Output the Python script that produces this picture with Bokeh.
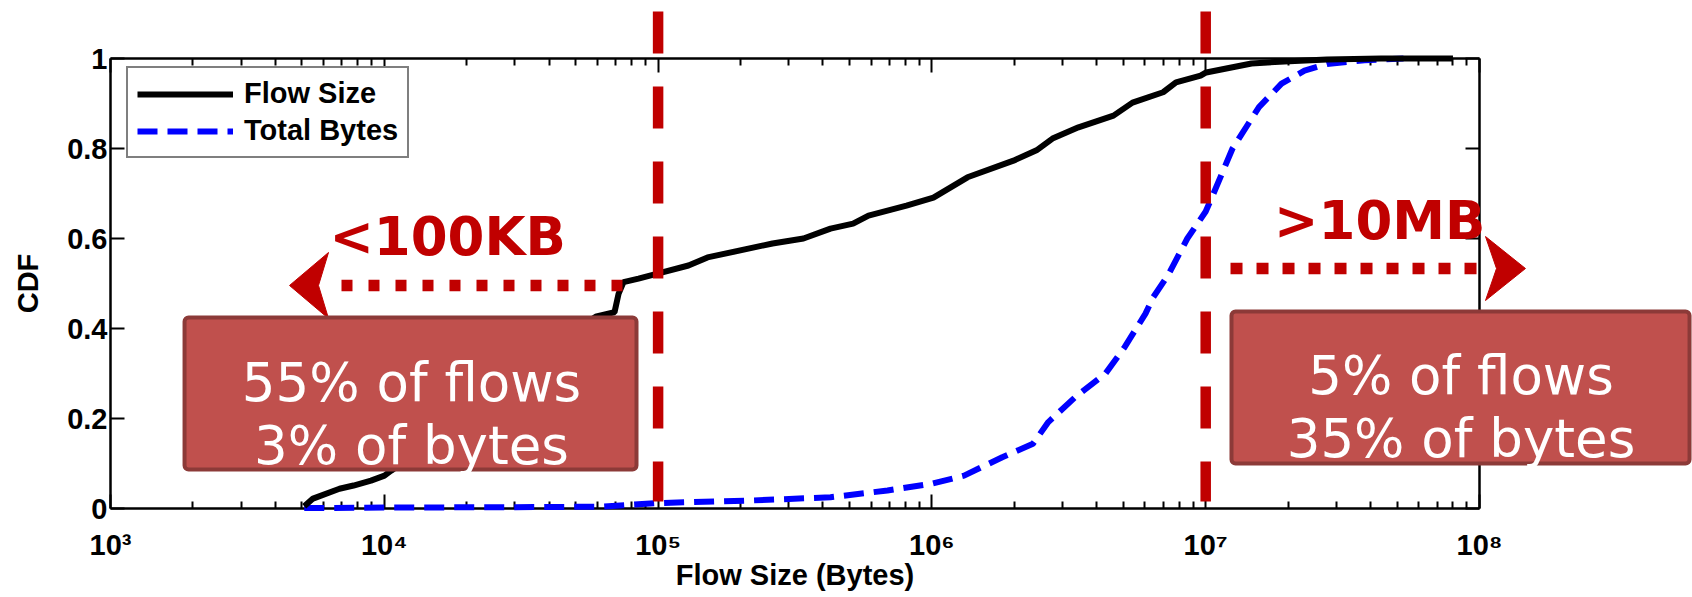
from bokeh.plotting import figure
from bokeh.models import Range1d, FixedTicker, LogAxis, LinearAxis, Legend, LegendItem
from bokeh.embed import file_html
from bokeh.resources import INLINE
from bokeh.core.properties import value

# ---------------- data ----------------
flow_size_bytes = [5100, 5490, 6860, 7720, 8940, 10016, 10590, 15000, 20000, 30000, 45000,
                   59570, 69300, 71700, 74750, 84800, 99500, 129100, 151500, 261700, 339600,
                   426200, 515400, 586700, 807500, 1013000, 1349000, 1986000, 2410000, 2757000,
                   3430000, 4605000, 5403000, 6990000, 7790000, 9580000, 10040000, 14700000,
                   20240000, 27730000, 43700000, 80000000]
flow_size_cdf = [0.005, 0.022, 0.044, 0.051, 0.062, 0.073, 0.084, 0.15, 0.21, 0.30, 0.38,
                 0.427, 0.436, 0.477, 0.503, 0.511, 0.522, 0.540, 0.558, 0.589, 0.600,
                 0.622, 0.633, 0.651, 0.673, 0.691, 0.736, 0.773, 0.796, 0.822,
                 0.847, 0.873, 0.902, 0.925, 0.947, 0.962, 0.969, 0.989,
                 0.994, 0.998, 1.0, 1.0]

total_bytes_x = [5100, 10000, 30000, 61600, 99500, 223000, 426200, 688300, 996600, 1311000,
                 1807000, 2340000, 2662000, 3332000, 4306000, 5050000, 6027000, 6440000,
                 7312000, 8567000, 10000000, 10680000, 12530000, 15650000, 18920000,
                 22950000, 27730000, 38020000, 52780000]
total_bytes_cdf = [0.001, 0.002, 0.003, 0.004, 0.012, 0.018, 0.025, 0.040, 0.055, 0.073,
                   0.114, 0.144, 0.192, 0.247, 0.300, 0.358, 0.433, 0.470,
                   0.520, 0.600, 0.660, 0.700, 0.800, 0.892, 0.944,
                   0.973, 0.988, 0.996, 1.0]

x_ticks = [1e3, 1e4, 1e5, 1e6, 1e7, 1e8]
x_tick_labels = ["10\u00b3", "10\u2074", "10\u2075", "10\u2076", "10\u2077", "10\u2078"]
y_ticks = [0, 0.2, 0.4, 0.6, 0.8, 1]
y_tick_labels = ["0", "0.2", "0.4", "0.6", "0.8", "1"]

thresholds = [1e5, 1e7]
threshold_labels = ["<100KB", ">10MB"]
box_lines = [["55% of flows", "3% of bytes"], ["5% of flows", "35% of bytes"]]

# ---------------- layout ----------------
W, H = 1692, 597
PLOT_L, PLOT_R, PLOT_T, PLOT_B = 110, 1479, 58, 508   # frame of the axes inside canvas (px)
DEC = (PLOT_R - PLOT_L) / 5.0
X_LO = 10 ** (3 - PLOT_L / DEC)
X_HI = 10 ** (8 + (W - PLOT_R) / DEC)
UNIT = (PLOT_B - PLOT_T)
Y_HI = 1 + PLOT_T / UNIT
Y_LO = -(H - PLOT_B) / UNIT

RED = "#C00000"
BOX_FILL = "#C0504D"
BOX_EDGE = "#8C3A38"
AX_FONT = "Liberation Sans"

p = figure(width=W, height=H, x_axis_type="log", output_backend="svg", toolbar_location=None,
           x_range=Range1d(X_LO, X_HI), y_range=Range1d(Y_LO, Y_HI), min_border=0)
p.outline_line_color = None
p.xgrid.visible = False
p.ygrid.visible = False
p.background_fill_color = "white"
p.border_fill_color = "white"

minor = [k * 10 ** e for e in range(3, 8) for k in range(2, 10)]


def style_axis(ax):
    ax.axis_line_color = "black"
    ax.axis_line_width = 2.5
    ax.major_tick_line_color = "black"
    ax.major_tick_line_width = 2
    ax.minor_tick_line_color = "black"
    ax.minor_tick_line_width = 2
    ax.major_tick_in = 14
    ax.major_tick_out = 0
    ax.minor_tick_in = 7
    ax.minor_tick_out = 0
    ax.major_label_text_font = AX_FONT
    ax.major_label_text_font_size = "29px"
    ax.major_label_text_font_style = "bold"
    ax.major_label_text_color = "black"
    ax.axis_label_text_font = AX_FONT
    ax.axis_label_text_font_size = "29px"
    ax.axis_label_text_font_style = "bold"
    ax.axis_label_text_color = "black"


xa = p.xaxis[0]
style_axis(xa)
xa.fixed_location = 0
xa.bounds = (1e3, 1e8)
xa.ticker = FixedTicker(ticks=x_ticks, minor_ticks=minor)
xa.major_label_overrides = dict(zip(x_ticks, x_tick_labels))
xa.major_label_standoff = 20
xa.axis_label = "Flow Size (Bytes)"
xa.axis_label_standoff = -5

ya = p.yaxis[0]
style_axis(ya)
ya.fixed_location = 1e3
ya.bounds = (0, 1)
ya.ticker = FixedTicker(ticks=y_ticks, minor_ticks=[])
ya.major_label_overrides = dict(zip(y_ticks, y_tick_labels))
ya.major_label_standoff = 3
ya.axis_label = "CDF"
ya.axis_label_standoff = 20

ta = LogAxis(fixed_location=1, bounds=(1e3, 1e8), ticker=FixedTicker(ticks=x_ticks, minor_ticks=minor))
style_axis(ta)
ta.major_label_text_color = None
p.add_layout(ta, "above")

ra = LinearAxis(fixed_location=1e8, bounds=(0, 1), ticker=FixedTicker(ticks=y_ticks, minor_ticks=[]))
style_axis(ra)
ra.major_label_text_color = None
p.add_layout(ra, "right")

# ---------------- curves ----------------
r_bytes = p.line(total_bytes_x, total_bytes_cdf, line_color="#0000FF", line_width=6,
                 line_dash="20 10")
r_flow = p.line(flow_size_bytes, flow_size_cdf, line_color="black", line_width=6)
r_bytes.level = "overlay"
r_flow.level = "overlay"

legend = Legend(items=[LegendItem(label="Flow Size", renderers=[r_flow]),
                       LegendItem(label="Total Bytes", renderers=[r_bytes])],
                location=(126, 439), glyph_width=96, glyph_height=22, label_height=22,
                spacing=4, padding=9, label_standoff=11,
                label_text_font=AX_FONT, label_text_font_size="29px",
                label_text_font_style="bold", label_text_color="black",
                border_line_color="black",
                border_line_width=2.5, background_fill_color="white", background_fill_alpha=1)
p.add_layout(legend)

# ---------------- annotations ----------------
vline_top, vline_bot = 1.1044, 0.0156
for t in thresholds:
    r = p.line([t, t], [vline_top, vline_bot], line_color=RED, line_width=10.5,
               line_dash="42 33")
    r.level = "overlay"

# dotted arrows (x in bytes, y in CDF units)
arrow_left = dict(x0=6977, x1=74750, y=0.4956,
                  head_x=[4506, 6255, 5750, 6255], head_y=[0.4956, 0.5689, 0.4956, 0.4222])
arrow_right = dict(x0=1.2321e7, x1=1.0429e8, y=0.5333,
                   head_x=[1.4723e8, 1.0518e8, 1.1537e8, 1.0518e8], head_y=[0.5333, 0.6044, 0.5333, 0.4622])
for a, dash in ((arrow_left, "11 16"), (arrow_right, "12 14")):
    r = p.line([a["x0"], a["x1"]], [a["y"], a["y"]], line_color=RED, line_width=11.5,
               line_dash=dash, line_cap="butt")
    r.level = "overlay"
    r = p.patch(a["head_x"], a["head_y"], fill_color=RED, line_color=RED, line_width=1)
    r.level = "overlay"

# threshold labels
r = p.text(x=[6305, 1.7776e7], y=[0.6044, 0.64], text=threshold_labels,
           text_font=value("DejaVu Sans"), text_font_size="53px", text_font_style="bold",
           text_color=RED, text_align="left", text_baseline="alphabetic")
r.level = "overlay"

# callout boxes
boxes_left = [1864, 1.2423e7]
boxes_right = [83390, 5.85e8]
boxes_bottom = [0.0867, 0.1]
boxes_top = [0.4244, 0.4378]
r = p.quad(left=boxes_left, right=boxes_right, bottom=boxes_bottom, top=boxes_top,
           fill_color=BOX_FILL, line_color=BOX_EDGE, line_width=4, border_radius=4)
r.level = "overlay"

box_cx = [12570, 8.5572e7]
box_base1 = [0.28, 0.2956]
box_base2 = [0.14, 0.1556]
r = p.text(x=box_cx + box_cx, y=box_base1 + box_base2,
           text=[box_lines[0][0], box_lines[1][0], box_lines[0][1], box_lines[1][1]],
           text_font=value("DejaVu Sans"), text_font_size="53px", text_color="white",
           text_align="center", text_baseline="alphabetic")
r.level = "overlay"

open("out.html", "w").write(file_html(p, INLINE))
